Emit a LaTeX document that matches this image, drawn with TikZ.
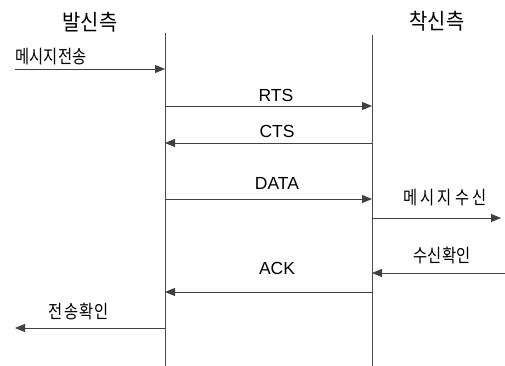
\documentclass[tikz,border=0pt]{standalone}
\usepackage{fontspec}
\setmainfont{Liberation Sans}
\newfontfamily\kr{Noto Sans CJK KR}
\usetikzlibrary{arrows.meta}
\newcommand{\ksp}[1]{\kr\fontsize{18.5}{20}\selectfont\addfontfeature{LetterSpace=#1}}
\begin{document}
\begin{tikzpicture}[x=1pt,y=-1pt,
  life/.style={draw=black!70,line width=0.8pt},
  msg/.style={draw=black!75,line width=0.8pt,-{Triangle[length=10pt,width=8pt]}},
  head/.style={font=\kr\fontsize{22}{24}\selectfont,inner sep=0pt,xscale=0.9},
  lbl/.style={font=\fontsize{17.5}{19}\selectfont,inner sep=0pt},
  klbl/.style={inner sep=0pt,xscale=0.83}]
\useasboundingbox (0,0) rectangle (505,366);
% lifelines
\coordinate (Atop) at (165,33);
\coordinate (Abot) at (165,366);
\coordinate (Btop) at (372,35);
\coordinate (Bbot) at (372,366);
\draw[life] (Atop) -- (Abot);
\draw[life] (Btop) -- (Bbot);
% headers
\node[head] (hA) at (90,22) {발신측};
\node[head] (hB) at (437,21) {착신측};
% message send
\coordinate (s0) at (15,69);
\coordinate (s1) at (165,69);
\draw[msg] (s0) -- (s1);
\node[klbl,font=\ksp{1}] (tSend) at (51,57) {메시지전송};
% RTS
\coordinate (r0) at (165,106);
\coordinate (r1) at (372,106);
\draw[msg] (r0) -- (r1);
\node[lbl] (tRTS) at (276,95) {RTS};
% CTS
\coordinate (c0) at (372,143);
\coordinate (c1) at (165,143);
\draw[msg] (c0) -- (c1);
\node[lbl] (tCTS) at (277,131) {CTS};
% DATA
\coordinate (d0) at (165,199);
\coordinate (d1) at (372,199);
\draw[msg] (d0) -- (d1);
\node[lbl] (tDATA) at (277,183.5) {DATA};
% message receive
\coordinate (m0) at (372,218);
\coordinate (m1) at (501,218);
\draw[msg] (m0) -- (m1);
\node[klbl,font=\ksp{20}] (tRecv) at (445,198) {메시지수신};
% receive confirm
\coordinate (k0) at (505,273);
\coordinate (k1) at (372,273);
\draw[msg] (k0) -- (k1);
\node[klbl,font=\ksp{1}] (tConf) at (442,256) {수신확인};
% ACK
\coordinate (a0) at (372,292);
\coordinate (a1) at (165,292);
\draw[msg] (a0) -- (a1);
\node[lbl] (tACK) at (277,268) {ACK};
% send confirm
\coordinate (e0) at (165,328);
\coordinate (e1) at (15,328);
\draw[msg] (e0) -- (e1);
\node[klbl,font=\ksp{8}] (tSc) at (79,312) {전송확인};
\end{tikzpicture}
\end{document}
